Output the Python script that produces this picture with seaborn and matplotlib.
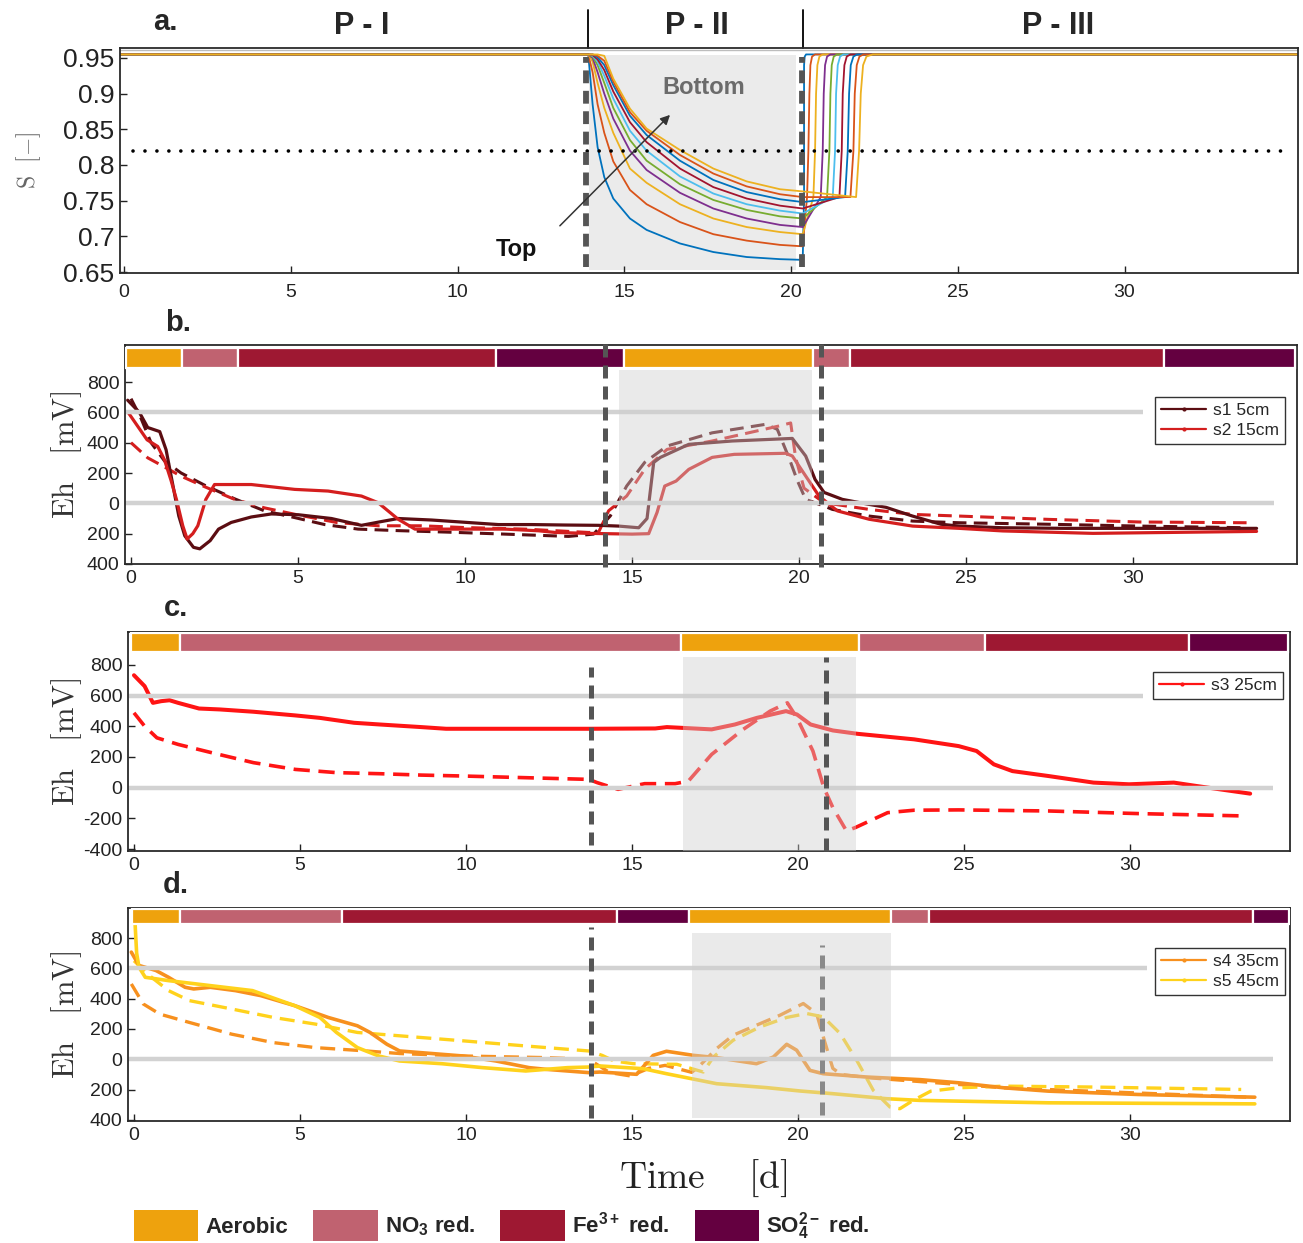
import matplotlib
matplotlib.use("Agg")
import matplotlib.pyplot as plt
import matplotlib.transforms as mtransforms
from matplotlib.lines import Line2D
from matplotlib.patches import Patch
import numpy as np
import seaborn as sns

sns.set_style("white")
plt.rcParams["font.family"] = ["Liberation Sans", "DejaVu Sans"]
plt.rcParams["mathtext.fontset"] = "cm"
plt.rcParams["mathtext.default"] = "regular"

# ---------------- data: panel a (saturation, 10 depths) ----------------
T_DRAIN = [13.92, 14.05, 14.2, 14.4, 14.67, 15.17, 15.67, 16.67, 17.67, 18.67, 19.67, 20.35]
S_DRAIN = [
    [0.955, 0.885, 0.825, 0.783, 0.753, 0.725, 0.709, 0.690, 0.678, 0.671, 0.668, 0.667],
    [0.955, 0.930, 0.885, 0.845, 0.805, 0.765, 0.745, 0.720, 0.703, 0.694, 0.688, 0.686],
    [0.955, 0.945, 0.915, 0.880, 0.845, 0.795, 0.775, 0.745, 0.725, 0.713, 0.706, 0.703],
    [0.955, 0.950, 0.930, 0.900, 0.865, 0.820, 0.793, 0.761, 0.739, 0.725, 0.716, 0.713],
    [0.955, 0.952, 0.940, 0.915, 0.880, 0.835, 0.806, 0.773, 0.751, 0.737, 0.728, 0.725],
    [0.955, 0.953, 0.945, 0.925, 0.893, 0.848, 0.820, 0.784, 0.760, 0.745, 0.736, 0.732],
    [0.955, 0.954, 0.948, 0.933, 0.903, 0.860, 0.832, 0.795, 0.769, 0.753, 0.743, 0.739],
    [0.955, 0.955, 0.951, 0.940, 0.912, 0.869, 0.842, 0.806, 0.779, 0.762, 0.752, 0.748],
    [0.955, 0.955, 0.953, 0.946, 0.917, 0.874, 0.848, 0.814, 0.788, 0.770, 0.759, 0.755],
    [0.955, 0.955, 0.955, 0.953, 0.921, 0.879, 0.851, 0.821, 0.795, 0.777, 0.766, 0.763],
]
REFILL_LEVELS = [0.755, 0.82, 0.90, 0.94, 0.952, 0.955]
REFILL_T = [
    [20.39, 20.39, 20.39, 20.39, 20.41, 20.45],
    [20.48, 20.52, 20.55, 20.58, 20.63, 20.72],
    [20.67, 20.72, 20.75, 20.79, 20.85, 20.95],
    [20.89, 20.95, 20.98, 21.02, 21.08, 21.18],
    [21.08, 21.15, 21.18, 21.22, 21.28, 21.38],
    [21.25, 21.32, 21.35, 21.40, 21.47, 21.57],
    [21.45, 21.52, 21.55, 21.60, 21.67, 21.78],
    [21.62, 21.70, 21.74, 21.79, 21.87, 21.98],
    [21.78, 21.87, 21.91, 21.97, 22.05, 22.17],
    [21.95, 22.04, 22.09, 22.16, 22.26, 22.45],
]
S_FULL = 0.955
S_THRESHOLD = 0.82

# ---------------- data: panel b ----------------
T_S1 = [-0.1, 0.25, 0.5, 0.86, 1.05, 1.24, 1.43, 1.61, 1.87, 2.06, 2.37, 2.62, 3.0, 3.6, 4.2, 5.0,
        6.0, 6.9, 7.5, 8.0, 9.0, 10.0, 11.0, 12.0, 13.0, 14.0, 14.6, 15.2, 15.45, 15.65, 15.85,
        16.7, 18.0, 19.8, 20.2, 20.48, 20.75, 21.3, 22.1, 22.6, 23.4, 24.25, 24.8, 26.1, 28.0,
        30.0, 33.7]
EH_S1 = [680, 600, 500, 473, 353, 135, -83, -214, -290, -300, -246, -170, -126, -90, -70, -75,
         -100, -145, -120, -100, -110, -125, -140, -140, -143, -145, -150, -161, -100, 270, 303,
         389, 411, 428, 312, 158, 72, 26, -7, -26, -84, -138, -150, -161, -165, -165, -165]
T_S2 = [-0.1, 0.48, 0.8, 1.0, 1.2, 1.36, 1.55, 1.68, 1.85, 2.0, 2.24, 2.5, 3.6, 4.9, 5.9, 6.9,
        7.4, 8.0, 8.5, 9.3, 11.2, 12.2, 12.7, 13.7, 15.0, 15.5, 15.75, 15.98, 16.32, 16.7, 17.4,
        18.06, 19.6, 19.8, 20.2, 20.6, 21.15, 22.1, 23.4, 24.8, 26.1, 28.8, 33.7]
EH_S2 = [604, 419, 375, 288, 150, 26, -148, -235, -200, -148, 26, 124, 124, 92, 81, 48,
         4, -105, -170, -170, -170, -181, -192, -198, -203, -200, -60, 114, 147, 224, 303,
         323, 330, 312, 180, 48, -50, -105, -150, -165, -182, -198, -185]
T_S1D = [0.0, 0.3, 0.6, 1.0, 1.5, 2.2, 3.1, 4.0, 4.9, 5.8, 6.8, 8.0, 9.5, 11.2, 13.1, 13.85,
         14.35, 14.84, 15.38, 16.05, 17.4, 19.0, 19.35, 19.7, 19.95, 20.2, 20.75, 21.0, 22.1,
         23.4, 24.8, 27.5, 30.2, 33.4]
EH_S1D = [690, 560, 400, 280, 200, 120, 30, -50, -94, -140, -170, -180, -190, -203, -218, -203,
          -83, 114, 270, 378, 465, 521, 488, 300, 150, 26, -18, -40, -84,
          -117, -128, -138, -150, -161]
T_S2D = [0.0, 0.5, 1.0, 1.5, 2.2, 3.1, 4.0, 4.9, 6.15, 7.4, 8.7, 9.9, 11.8, 13.7, 14.0, 14.3,
         14.84, 15.38, 16.05, 17.4, 19.4, 19.75, 19.9, 20.15, 20.75, 22.1, 23.4, 24.8, 27.5,
         30.2, 33.4]
EH_S2D = [400, 300, 240, 179, 110, 26, -30, -72, -126, -148, -148, -159, -170, -192, -190, -49,
          48, 224, 356, 411, 510, 530, 300, 100, 4, -40, -73, -84, -106,
          -123, -128]

# ---------------- data: panel c ----------------
T_S3 = [0.0, 0.32, 0.57, 0.82, 1.07, 1.33, 1.96, 2.59, 3.6, 4.86, 5.6, 6.63, 7.4, 8.65, 9.4,
        11.17, 13.7, 15.7, 16.05, 17.4, 18.1, 18.76, 19.64, 19.97, 20.38, 21.05, 21.8, 23.5,
        24.84, 25.38, 25.9, 26.46, 27.54, 28.9, 29.97, 31.32, 32.0, 33.62]
EH_S3 = [733, 662, 553, 564, 570, 553, 516, 510, 495, 471, 455, 423, 412, 395, 384,
         384, 384, 386, 395, 380, 412, 455, 499, 477, 412, 373, 351, 315,
         271, 239, 152, 108, 76, 33, 22, 33, 11, -39]
T_S3D = [0.0, 0.32, 0.69, 1.33, 2.34, 3.6, 4.86, 6.1, 7.4, 8.65, 9.9, 11.8, 13.7, 13.95, 14.58,
         15.38, 16.3, 16.7, 17.4, 18.35, 19.16, 19.68, 19.97, 20.45, 20.78, 21.05, 21.46, 21.73,
         22.7, 23.5, 24.84, 27.54, 30.24, 33.35]
EH_S3D = [488, 401, 325, 282, 228, 163, 119, 98, 91, 82, 76, 65, 54, 33, -11,
          26, 26, 43, 217, 380, 499, 553, 455, 239, 0, -130, -282, -260,
          -163, -147, -145, -152, -169, -184]

# ---------------- data: panel d ----------------
T_S4 = [-0.08, 0.15, 0.66, 1.04, 1.54, 1.8, 2.3, 3.06, 3.82, 4.84, 5.85, 6.73, 7.11, 7.62, 8.0,
        8.63, 9.9, 10.9, 11.9, 12.4, 13.7, 14.04, 15.14, 15.64, 16.04, 16.85, 17.55, 18.75,
        19.26, 19.66, 19.96, 20.36, 20.76, 22.07, 23.67, 24.84, 26.2, 27.54, 30.24, 33.76]
EH_S4 = [707, 619, 586, 541, 475, 464, 475, 453, 420, 354, 276, 221, 177, 99, 55,
         44, 22, -11, -55, -66, -88, -84, -99, 26, 53, 26, 11, -29,
         15, 99, 60, -73, -95, -117, -134, -155, -188, -210, -232, -250]
T_S5 = [0.02, 0.08, 0.15, 0.34, 1.04, 2.3, 3.57, 4.84, 5.6, 6.1, 6.73, 7.37, 8.0, 9.27, 10.5,
        11.8, 13.06, 13.7, 14.04, 15.34, 16.04, 17.55, 19.06, 20.06, 21.06, 22.67, 23.67, 24.84,
        27.54, 33.76]
EH_S5 = [950, 700, 608, 541, 519, 486, 453, 354, 276, 177, 77, 22, -11, -29, -55,
         -77, -55, -51, -44, -62, -95, -161, -187, -209, -227, -260, -271, -276,
         -287, -294]
T_S4D = [-0.08, 0.28, 0.78, 1.67, 2.94, 4.2, 5.47, 7.0, 8.0, 9.9, 12.4, 13.7, 14.33, 14.96,
         15.5, 16.0, 16.8, 17.05, 17.55, 18.05, 18.75, 19.46, 20.16, 20.56, 20.8, 21.05, 21.3,
         22.14, 26.2, 33.5]
EH_S4D = [497, 365, 298, 243, 166, 110, 77, 55, 38, 22, 11, 0, -88, -110,
          -60, -40, -86, -40, 71, 159, 225, 291, 368, 302, 120, -60, -100,
          -122, -188, -250]
T_S5D = [0.0, 0.53, 1.04, 1.67, 2.94, 4.2, 5.47, 6.73, 8.0, 9.9, 11.8, 13.7, 14.1, 14.46,
         15.04, 16.35, 17.15, 17.45, 18.05, 18.86, 19.66, 20.26, 20.76, 21.27, 21.77, 22.27,
         22.77, 23.07, 23.47, 24.0, 24.84, 26.2, 28.9, 33.35]
EH_S5D = [650, 541, 453, 387, 332, 276, 232, 177, 155, 122, 88, 55, 26, -11,
          -29, -33, -84, 15, 126, 214, 276, 302, 280, 170, -7, -205,
          -315, -326, -271, -210, -188, -177, -183, -199]

# ---------------- redox-stage strips ----------------
B_EDGES = [-0.15, 1.53, 3.21, 10.92, 14.75, 20.42, 21.53, 30.94, 34.84]
B_STAGES = ["Aerobic", "NO3", "Fe", "SO4", "Aerobic", "NO3", "Fe", "SO4"]
C_EDGES = [-0.08, 1.4, 16.47, 21.83, 25.62, 31.77, 34.77]
C_STAGES = ["Aerobic", "NO3", "Aerobic", "NO3", "Fe", "SO4"]
D_EDGES = [-0.05, 1.38, 6.26, 14.55, 16.73, 22.81, 23.96, 33.72, 34.8]
D_STAGES = ["Aerobic", "NO3", "Fe", "SO4", "Aerobic", "NO3", "Fe", "SO4"]

STAGE_COLORS = {"Aerobic": "#eea20d", "NO3": "#c06270", "Fe": "#9e1832", "SO4": "#640040"}
STAGE_LABELS = ["Aerobic", r"NO$_3$ red.", r"Fe$^{3+}$ red.", r"SO$_4^{2-}$ red."]

MATLAB = ["#0072BD", "#D95319", "#EDB120", "#7E2F8E", "#77AC30", "#4DBEEE", "#A2142F"]
EH_TICKS = [-400, -200, 0, 200, 400, 600, 800]
X_TICKS = [0, 5, 10, 15, 20, 25, 30]

W, H = 1303, 1243
fig = plt.figure(figsize=(W / 100, H / 100), dpi=100)


def rect(left, top, right, bottom):
    return [left / W, 1 - bottom / H, (right - left) / W, (bottom - top) / H]


def style_axes(ax, labelsize=14):
    for sp in ax.spines.values():
        sp.set_visible(True)
        sp.set_color("#2a2a2a")
        sp.set_linewidth(1.3)
    ax.tick_params(direction="in", length=5, width=1, labelsize=labelsize,
                   colors="#222222", left=True, bottom=True, pad=4)


# ---------------- panel a ----------------
ax_a = fig.add_axes(rect(120, 48, 1298, 273))
ax_a.fill_between([13.93, 20.16], 0.653, 0.954, color="#ebebeb", lw=0, zorder=0.5)
for k in range(10):
    t = [-0.3] + T_DRAIN + REFILL_T[k] + [35.5]
    s = [S_FULL] + S_DRAIN[k] + REFILL_LEVELS + [S_FULL]
    sns.lineplot(x=t, y=s, ax=ax_a, color=MATLAB[k % 7], lw=1.3, sort=False,
                 estimator=None, zorder=2)
ax_a.axhline(0.9615, color="#bdbdbd", lw=1.0, zorder=1)
ax_a.plot([0.27, 34.96], [S_THRESHOLD, S_THRESHOLD], color="k", lw=2.6,
          ls=(0, (0.01, 3.3)), dash_capstyle="round", zorder=3)
for xv in [13.86, 20.32]:
    ax_a.plot([xv, xv], [0.657, 0.952], color="#555555", lw=4.2,
              ls=(0, (2.2, 1.3)), zorder=4)
ax_a.annotate("", xy=(16.43, 0.873), xytext=(13.01, 0.712),
              arrowprops=dict(arrowstyle="-|>", color="#333333", lw=1.1,
                              mutation_scale=14), zorder=5)
ax_a.text(11.78, 0.681, "Top", fontsize=17, fontweight="bold", ha="center",
          va="center", color="#111111")
ax_a.text(17.39, 0.909, "Bottom", fontsize=17, fontweight="bold", ha="center",
          va="center", color="#6b6b6b")
ax_a.set_xlim(-0.12, 35.2)
ax_a.set_ylim(0.6486, 0.964)
style_axes(ax_a, 14)
ax_a.set_xticks(X_TICKS)
ax_a.set_yticks([0.65, 0.7, 0.75, 0.8, 0.85, 0.9, 0.95])
ax_a.set_yticklabels(["0.65", "0.7", "0.75", "0.8", "0.85", "0.9", "0.95"], fontsize=19)
ax_a.tick_params(axis="x", pad=8)
ax_a.set_xlabel("")
ax_a.set_ylabel(r"$\mathrm{S\ \ [-]}$", fontsize=17, color="#666666")
ax_a.yaxis.set_label_coords(-0.065, 0.5)
trans = mtransforms.blended_transform_factory(ax_a.transData, ax_a.transAxes)
for xv in [13.91, 20.36]:
    ax_a.plot([xv, xv], [1.0, 1.17], transform=trans, clip_on=False, color="k", lw=1.3)
for xv, lab in [(7.14, "P - I"), (17.18, "P - II"), (28.0, "P - III")]:
    ax_a.text(xv, 1.10, lab, transform=trans, fontsize=22, fontweight="bold",
              ha="center", va="center")


# ---------------- Eh panels ----------------
def eh_panel(box, xlim, ylim, strip, edges, stages, shade, vlines, hl_end,
             series, legend_items, legend_xy, neg_labels):
    ax = fig.add_axes(rect(*box))
    for t, v, color, dashed, lw in series:
        kws = dict(ls=(0, (4.5, 2.4))) if dashed else dict(ls="-")
        sns.lineplot(x=t, y=v, ax=ax, color=color, lw=lw, sort=False,
                     estimator=None, zorder=2, **kws)
    ax.hlines(600, xlim[0], hl_end[0], color="#d2d2d2", lw=3.2, zorder=2.5)
    ax.hlines(0, xlim[0], hl_end[1], color="#d2d2d2", lw=3.2, zorder=2.5)
    x0, x1, y0, y1 = shade
    ax.fill_between([x0, x1], y0, y1, color="#cfcfcf", alpha=0.42, lw=0, zorder=3)
    for xv, ya, yb, col in vlines:
        ax.plot([xv, xv], [ya, yb], color=col, lw=3.6, ls=(0, (2.6, 1.6)),
                zorder=5, clip_on=False)
    lo, hi = strip
    starts = edges[:-1]
    widths = [b - a for a, b in zip(edges[:-1], edges[1:])]
    ax.barh(y=(lo + hi) / 2, width=widths, left=starts, height=hi - lo,
            color=[STAGE_COLORS[s] for s in stages], edgecolor="white",
            linewidth=1.6, zorder=4)
    ax.set_xlim(*xlim)
    ax.set_ylim(*ylim)
    style_axes(ax, 14)
    ax.set_xticks(X_TICKS)
    ax.set_yticks(EH_TICKS)
    ax.set_yticklabels(neg_labels + ["0", "200", "400", "600", "800"])
    ax.set_xlabel("")
    ax.set_ylabel(r"$\mathrm{Eh\ \ \ [mV]}$", fontsize=22, color="#333333")
    ax.yaxis.set_label_coords((84 - box[0]) / (box[2] - box[0]), 0.5)
    handles = [Line2D([0], [0], color=c, lw=1.6, marker=".", ms=4) for c, _ in legend_items]
    leg = ax.legend(handles, [l for _, l in legend_items], loc="upper left",
                    bbox_to_anchor=legend_xy, frameon=True, fancybox=False,
                    edgecolor="#333333", framealpha=1, fontsize=12.5,
                    handlelength=2.6, borderpad=0.35, labelspacing=0.25,
                    handletextpad=0.4, borderaxespad=0)
    leg.get_frame().set_linewidth(1.0)
    return ax


S1, S2, S3, S4, S5 = "#5b0d12", "#d41e1e", "#ff1414", "#f7901e", "#ffd21c"

ax_b = eh_panel(
    (125, 345, 1297, 564), (-0.18, 34.91), (-400, 1044), (894, 1022),
    B_EDGES, B_STAGES, (14.6, 20.39, -373, 879),
    [(14.19, -420, 1060, "#555555"), (20.65, -420, 1060, "#555555")], (30.3, 34.23),
    [(T_S1D, EH_S1D, S1, True, 2.2), (T_S2D, EH_S2D, S2, True, 2.2),
     (T_S1, EH_S1, S1, False, 2.3), (T_S2, EH_S2, S2, False, 2.3)],
    [(S1, "s1 5cm"), (S2, "s2 15cm")], (0.879, 0.763), ["400", "200"])

ax_c = eh_panel(
    (128, 632, 1290, 851), (-0.18, 34.82), (-413, 1015), (883, 1007),
    C_EDGES, C_STAGES, (16.53, 21.76, -413, 852),
    [(13.76, -374, 789, "#555555"), (20.85, -413, 852, "#555555")], (30.38, 34.3),
    [(T_S3D, EH_S3D, S3, True, 2.6), (T_S3, EH_S3, S3, False, 2.9)],
    [(S3, "s3 25cm")], (0.882, 0.817), ["-400", "-200"])

ax_d = eh_panel(
    (128, 908, 1290, 1121), (-0.18, 34.82), (-407, 998), (892, 989),
    D_EDGES, D_STAGES, (16.8, 22.81, -390, 835),
    [(13.76, -387, 872, "#555555"), (20.72, -370, 754, "#8a8a8a")], (30.5, 34.3),
    [(T_S4D, EH_S4D, S4, True, 2.4), (T_S5D, EH_S5D, S5, True, 2.4),
     (T_S4, EH_S4, S4, False, 2.6), (T_S5, EH_S5, S5, False, 2.6)],
    [(S4, "s4 35cm"), (S5, "s5 45cm")], (0.884, 0.812), ["400", "200"])
ax_d.set_xlabel(r"$\mathrm{Time\ \ \ \ [d]}$", fontsize=27, color="#222222")
ax_d.xaxis.set_label_coords(0.495, -0.172)

# panel letters
for lab, (px, py) in {"a.": (165, 22), "b.": (178, 323), "c.": (176, 608),
                      "d.": (176, 885)}.items():
    fig.text(px / W, 1 - py / H, lab, fontsize=21, fontweight="bold",
             ha="center", va="center")

# stage legend
stage_handles = [Patch(facecolor=STAGE_COLORS[s], edgecolor="none")
                 for s in ["Aerobic", "NO3", "Fe", "SO4"]]
fig.legend(stage_handles, STAGE_LABELS, loc="center left",
           bbox_to_anchor=(134 / W, 1 - 1226 / H), ncol=4, frameon=False,
           prop=dict(size=16, weight="bold"), handlelength=2.9, handleheight=1.75,
           handletextpad=0.3, columnspacing=1.15, borderpad=0, borderaxespad=0)

fig.savefig("out.png", dpi=100)
